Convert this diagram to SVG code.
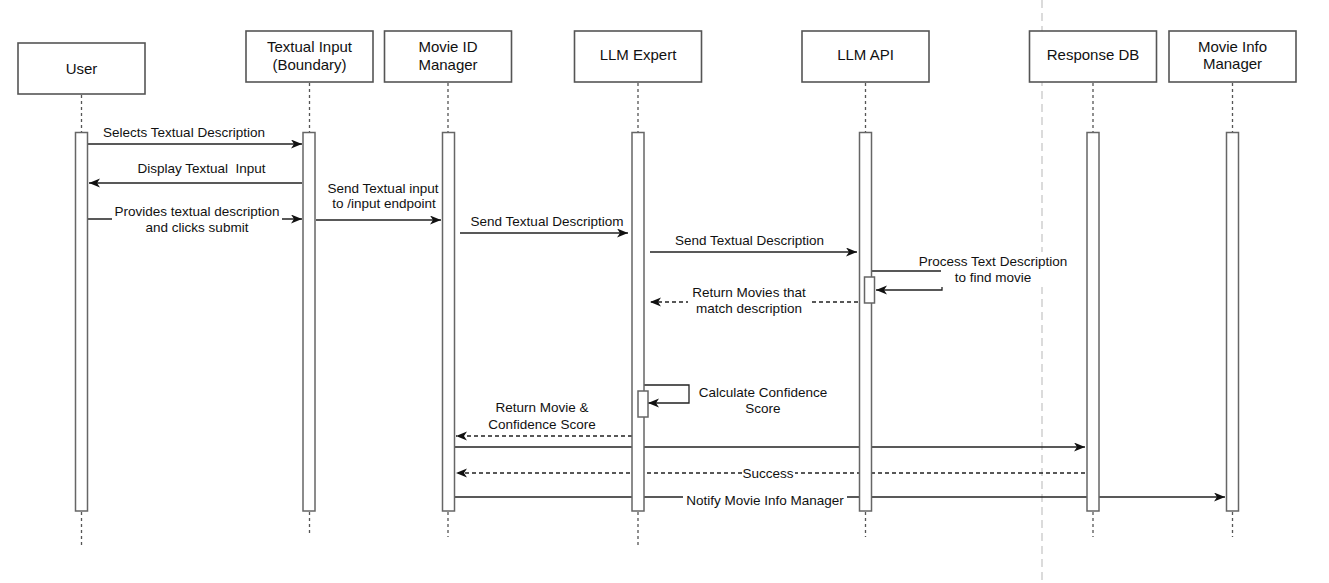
<svg xmlns="http://www.w3.org/2000/svg" width="1329" height="583" viewBox="0 0 1329 583">
<defs>
<style>
.box{fill:#fff;stroke:#555;stroke-width:1.6}
.bar{fill:#fff;stroke:#666;stroke-width:1.5}
.life{stroke:#555;stroke-width:1.3;stroke-dasharray:3 3;fill:none}
.hd{font-family:"Liberation Sans",Arial,sans-serif;font-size:15px;fill:#111;text-anchor:middle}
.lbl{font-family:"Liberation Sans",Arial,sans-serif;font-size:13.5px;fill:#111;text-anchor:middle;white-space:pre}
.msg{stroke:#222;stroke-width:1.3;fill:none;marker-end:url(#arr)}
.ret{stroke:#222;stroke-width:1.3;fill:none;stroke-dasharray:4 3;marker-end:url(#arr)}
.plain{stroke:#222;stroke-width:1.3;fill:none}
.bg{fill:#fff}
.sep{stroke:#c8c8c8;stroke-width:1.3;stroke-dasharray:8 5}
</style>
<marker id="arr" markerUnits="userSpaceOnUse" markerWidth="12" markerHeight="10" refX="11" refY="4.5" orient="auto">
<path d="M0,0 L11,4.5 L0,9 L3,4.5 z" fill="#111" stroke="none"/>
</marker>
</defs>
<rect width="1329" height="583" fill="#fff"/>
<line class="sep" x1="1042" y1="0" x2="1042" y2="583"/>

<g id="connectors">
<path class="msg" d="M88,144 H302"/>
<text class="lbl" x="184" y="136.5">Selects Textual Description</text>
<path class="msg" d="M302,183 H89"/>
<text class="lbl" x="201.5" y="172.5">Display Textual  Input</text>
<path class="msg" d="M88,219 H302"/>
<rect class="bg" x="112" y="203" width="170" height="32"/>
<text class="lbl" x="197" y="215.5">Provides textual description</text>
<text class="lbl" x="197" y="231.5">and clicks submit</text>
<path class="msg" d="M316,220 H441"/>
<text class="lbl" x="383" y="192.5">Send Textual input</text>
<text class="lbl" x="384" y="207.5">to /input endpoint</text>
<path class="msg" d="M460,233 H628"/>
<text class="lbl" x="547" y="225.5">Send Textual Descriptiom</text>
<path class="msg" d="M650,252 H857"/>
<text class="lbl" x="749.5" y="244.5">Send Textual Description</text>
<path class="msg" d="M872,271 H942 V290 H876"/>
<rect class="bg" x="916" y="252" width="154" height="17"/>
<rect class="bg" x="941" y="269" width="104" height="18"/>
<text class="lbl" x="993" y="265.5">Process Text Description</text>
<text class="lbl" x="993" y="281.5">to find movie</text>
<path class="ret" d="M858,302 H650"/>
<rect class="bg" x="688" y="284" width="122" height="32"/>
<text class="lbl" x="749" y="296.5">Return Movies that</text>
<text class="lbl" x="749" y="312.5">match description</text>
<path class="msg" d="M644,385 H689 V403 H648"/>
<text class="lbl" x="763" y="396.5">Calculate Confidence</text>
<text class="lbl" x="763" y="412.5">Score</text>
<path class="ret" d="M632,436 H456"/>
<text class="lbl" x="542" y="411.5">Return Movie &amp;</text>
<text class="lbl" x="542" y="428.5">Confidence Score</text>
<path class="msg" d="M455,447 H1085"/>
<path class="ret" d="M1085,473 H456"/>
<rect class="bg" x="742" y="466" width="53" height="16"/>
<text class="lbl" x="768" y="477.5">Success</text>
<path class="msg" d="M455,497 H1225"/>
<rect class="bg" x="683" y="491" width="164" height="17"/>
<text class="lbl" x="765" y="504.5">Notify Movie Info Manager</text>
</g>

<g id="user">
<rect class="box" x="18" y="43" width="127" height="51"/>
<text class="hd" x="81.5" y="74">User</text>
<line class="life" x1="81.5" y1="95" x2="81.5" y2="132"/>
<line class="life" x1="81.5" y1="512" x2="81.5" y2="545"/>
<rect class="bar" x="75.5" y="132.5" width="12" height="378.5"/>
</g>

<g id="textual-input">
<rect class="box" x="246" y="31" width="127" height="51"/>
<text class="hd" x="309.5" y="52">Textual Input</text>
<text class="hd" x="309.5" y="70">(Boundary)</text>
<line class="life" x1="309.5" y1="83" x2="309.5" y2="132"/>
<line class="life" x1="309.5" y1="512" x2="309.5" y2="535"/>
<rect class="bar" x="303" y="132.5" width="12" height="378.5"/>
</g>

<g id="movie-id-manager">
<rect class="box" x="384.5" y="31" width="127" height="51"/>
<text class="hd" x="448" y="52">Movie ID</text>
<text class="hd" x="448" y="70">Manager</text>
<line class="life" x1="448" y1="83" x2="448" y2="132"/>
<line class="life" x1="448" y1="512" x2="448" y2="537"/>
<rect class="bar" x="442.5" y="132.5" width="12" height="378.5"/>
</g>

<g id="llm-expert">
<rect class="box" x="574.5" y="31" width="127" height="51"/>
<text class="hd" x="638" y="60">LLM Expert</text>
<line class="life" x1="638" y1="83" x2="638" y2="132"/>
<line class="life" x1="638" y1="512" x2="638" y2="548"/>
<rect class="bar" x="632" y="132.5" width="12" height="378.5"/>
<rect class="bar" x="638" y="391" width="10" height="26"/>
</g>

<g id="llm-api">
<rect class="box" x="802" y="31" width="127" height="51"/>
<text class="hd" x="865.5" y="60">LLM API</text>
<line class="life" x1="865.5" y1="83" x2="865.5" y2="132"/>
<line class="life" x1="865.5" y1="512" x2="865.5" y2="537"/>
<rect class="bar" x="859.5" y="132.5" width="12" height="378.5"/>
<rect class="bar" x="864.5" y="277" width="10" height="26"/>
</g>

<g id="response-db">
<rect class="box" x="1029.5" y="31" width="127" height="51"/>
<text class="hd" x="1093" y="60">Response DB</text>
<line class="life" x1="1093" y1="83" x2="1093" y2="132"/>
<line class="life" x1="1093" y1="512" x2="1093" y2="537"/>
<rect class="bar" x="1087" y="132.5" width="12" height="378.5"/>
</g>

<g id="movie-info-manager">
<rect class="box" x="1169" y="31" width="127" height="51"/>
<text class="hd" x="1232.5" y="52">Movie Info</text>
<text class="hd" x="1232.5" y="69">Manager</text>
<line class="life" x1="1232.5" y1="83" x2="1232.5" y2="132"/>
<line class="life" x1="1232.5" y1="512" x2="1232.5" y2="537"/>
<rect class="bar" x="1226.5" y="132.5" width="12" height="378.5"/>
</g>
</svg>
